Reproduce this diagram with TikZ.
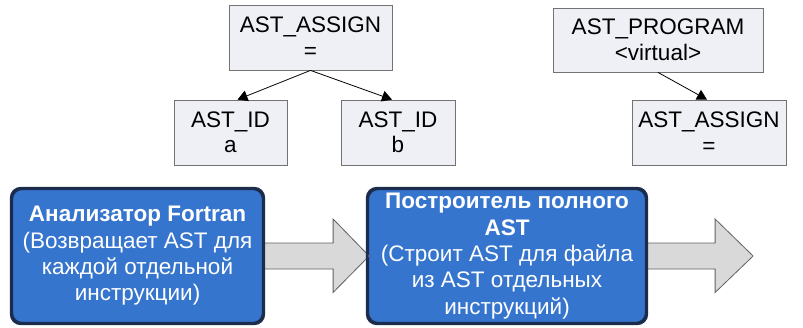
\documentclass[tikz,border=0pt]{standalone}
\usepackage{fontspec}
\setmainfont{Liberation Sans}
\usetikzlibrary{arrows.meta}
\usetikzlibrary{calc}

\definecolor{nodegray}{HTML}{EEF0F5}
\definecolor{stepblue}{HTML}{3675CE}
\definecolor{stepnavy}{HTML}{1B2C4C}
\definecolor{arrowgray}{HTML}{D9D9D9}

\tikzset{
  astnode/.style={draw=black!55, fill=nodegray, line width=0.8pt, inner sep=0pt,
    align=center, font=\fontsize{22.5}{25.5}\selectfont},
  stepnode/.style={draw=stepnavy, fill=stepblue, line width=2.2pt, rounded corners=10pt,
    inner sep=0pt, minimum height=134pt, align=center, text=white,
    font=\fontsize{22.5}{26.3}\selectfont},
  treeedge/.style={-{Triangle[length=10pt,width=11pt]}, line width=0.8pt},
  bigarrow/.style={fill=arrowgray, draw=black!62, line width=0.8pt, line join=miter}
}

\begin{document}
\begin{tikzpicture}[x=1pt, y=-1pt]
            \useasboundingbox (0,0) rectangle (803,327);

            % statement tree
            \node[astnode, minimum width=163pt, minimum height=65pt] (assign) at (310.5,37.5) {AST\_ASSIGN\\=};
            \node[astnode, minimum width=113pt, minimum height=65pt] (ida) at (230.5,132.5) {AST\_ID\\a};
            \node[astnode, minimum width=114pt, minimum height=65pt] (idb) at (398,132.5) {AST\_ID\\b};
            \draw[treeedge] (assign.south) -- ($(ida.north)+(7,0)$);
            \draw[treeedge] (assign.south) -- ($(idb.north)+(-6,0)$);

            % file tree
            \node[astnode, minimum width=210pt, minimum height=64pt] (program) at (658,40) {AST\_PROGRAM\\<virtual>};
            \node[astnode, minimum width=154pt, minimum height=65pt] (assignb) at (709,132.5) {AST\_ASSIGN\\=};
            \draw[treeedge] (program.south) -- ($(assignb.north)+(-2,0)$);

            % stages
            \node[stepnode, minimum width=251pt] (parser) at (137.5,256)
                {\textbf{Анализатор Fortran}\\(Возвращает AST для\\каждой отдельной\\инструкции)};
            \node[stepnode, minimum width=278pt] (builder) at (507,256)
                {\textbf{Построитель полного}\\\textbf{AST}\\(Строит AST для файла\\из AST отдельных\\инструкций)};

            \filldraw[bigarrow] (parser.east) ++(0,-13) -- ++(69,0) -- ++(0,-24) -- ++(36,37)
                -- ++(-36,36.5) -- ++(0,-23.5) -- ++(-69,0) -- cycle;
            \filldraw[bigarrow] (builder.east) ++(0,-13) -- ++(68,0) -- ++(0,-24) -- ++(38,37)
                -- ++(-38,36.5) -- ++(0,-23.5) -- ++(-68,0) -- cycle;
            \draw[stepnavy, line width=2.2pt, rounded corners=10pt] (parser.south west) rectangle (parser.north east);
            \draw[stepnavy, line width=2.2pt, rounded corners=10pt] (builder.south west) rectangle (builder.north east);

        \end{tikzpicture}
\end{document}
